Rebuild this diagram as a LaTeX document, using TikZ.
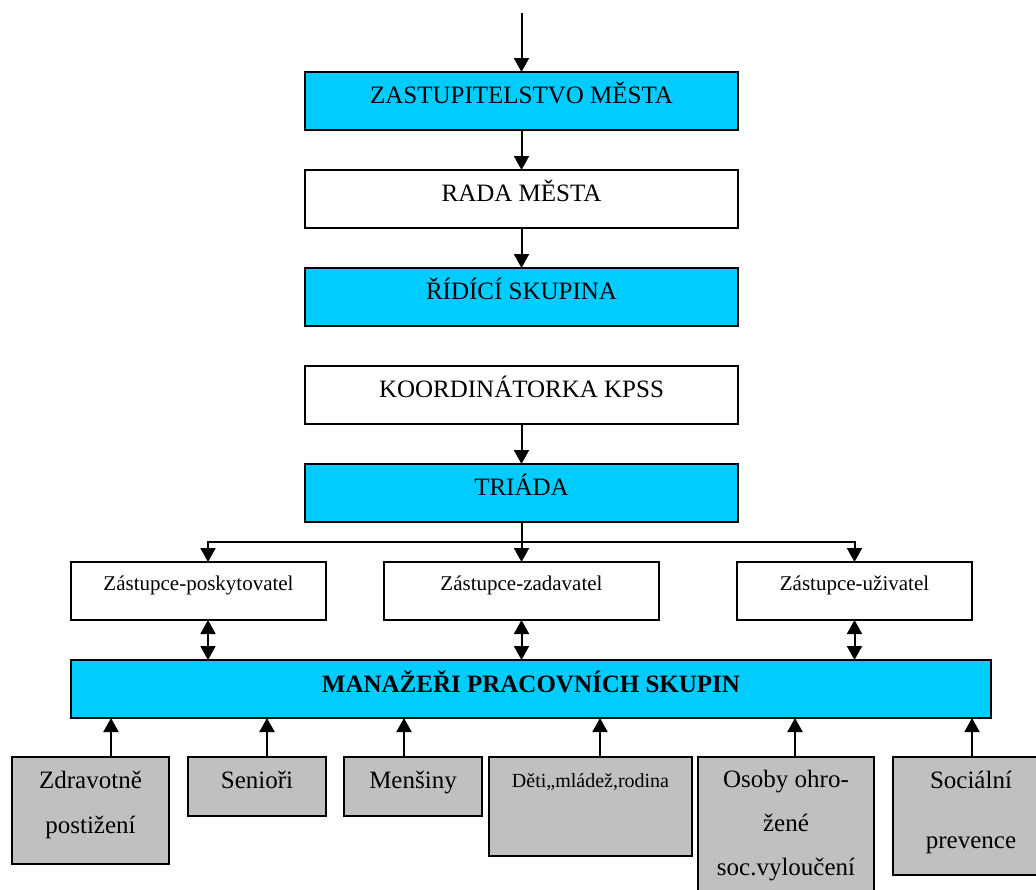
\documentclass[tikz,border=0pt]{standalone}
\usepackage{fontspec}
\setmainfont{Liberation Serif}
\usepackage{tikz}
\usetikzlibrary{positioning}
\usetikzlibrary{arrows.meta}

\definecolor{boxcyan}{HTML}{00CCFF}
\definecolor{boxgrey}{HTML}{C0C0C0}

\begin{document}
\begin{tikzpicture}[x=1pt,y=-1pt,>={Triangle[length=14pt,width=15pt]},line width=2pt,
	node distance=40pt,
	box/.style={rectangle,draw,inner xsep=0pt,inner ysep=0pt,outer sep=0pt,
		text height=31pt,text depth=27pt,font=\fontsize{25}{30}\selectfont},
	main node/.style={box,fill=boxcyan,minimum width=433pt},
	white node/.style={box,fill=white,minimum width=433pt},
	rep node/.style={box,fill=white,anchor=north,text height=28pt,text depth=30pt,
		font=\fontsize{21}{25}\selectfont},
	group node/.style={box,fill=boxgrey,anchor=north,align=center}]
	
	\useasboundingbox (0,0) rectangle (1036,889);
	
	% main column
	\coordinate (top) at (521.5,13);
	\node[main node] (zast) at (521.5,101) {ZASTUPITELSTVO MĚSTA};
	\node[white node] (rada) [below=of zast] {RADA MĚSTA};
	\node[main node] (ridici) [below=of rada] {ŘÍDÍCÍ SKUPINA};
	\node[white node] (koord) [below=of ridici] {KOORDINÁTORKA KPSS};
	\node[main node] (triada) [below=of koord] {TRIÁDA};
	
	% representatives
	\node[rep node,minimum width=255pt] (posk) at (198.5,562) {Zástupce-poskytovatel};
	\node[rep node,minimum width=275pt] (zad) at (521.5,562) {Zástupce-zadavatel};
	\node[rep node,minimum width=235pt] (uziv) at (854.5,562) {Zástupce-uživatel};
	
	\node[main node,anchor=north,minimum width=920pt,text height=32pt,text depth=26pt,
		font=\bfseries\fontsize{25}{30}\selectfont] (man) at (531,660) {MANAŽEŘI PRACOVNÍCH SKUPIN};
	
	% working groups
	\node[group node,minimum width=157pt,text height=76pt,text depth=31pt,
		font=\fontsize{25}{45}\selectfont] (zdrav) at (90.5,757) {Zdravotně\\postižení};
	\node[group node,minimum width=138pt,text depth=28pt] (sen) at (257,757) {Senioři};
	\node[group node,minimum width=138pt,text depth=28pt] (mens) at (413,757) {Menšiny};
	\node[group node,minimum width=203pt,text height=30pt,text depth=69pt,
		font=\fontsize{20}{24}\selectfont] (deti) at (590.5,757) {Děti,,mládež,rodina};
	\node[group node,minimum width=176pt,text height=118pt,text depth=20pt,
		font=\fontsize{25}{44}\selectfont] (osoby) at (786,757) {Osoby ohro-\\žené\\soc.vyloučení};
	\node[group node,minimum width=156pt,text height=91pt,text depth=27pt,
		font=\fontsize{25}{60}\selectfont] (soc) at (971,757) {Sociální\\prevence};
	
	\draw[->] (top) -- (zast);
	\draw[->] (zast) -- (rada);
	\draw[->] (rada) -- (ridici);
	\draw[->] (koord) -- (triada);
	
	\draw (triada.south) -- ++(0,20) coordinate (fork);
	\draw[->] (fork) -| ([xshift=9.5pt]posk.north);
	\draw[->] (fork) -- (zad.north);
	\draw[->] (fork) -| (uziv.north);
	
	\draw[<->] ([xshift=9.5pt]posk.south) -- ([xshift=9.5pt]posk.south |- man.north);
	\draw[<->] (zad.south) -- (zad.south |- man.north);
	\draw[<->] (uziv.south) -- (uziv.south |- man.north);
	
	\foreach \g/\dx in {zdrav/20.5,sen/10,mens/-9,deti/9.5,osoby/9,soc/1}
		\draw[->] ([xshift=\dx pt]\g.north) -- ([xshift=\dx pt]\g.north |- man.south);
\end{tikzpicture}
\end{document}
